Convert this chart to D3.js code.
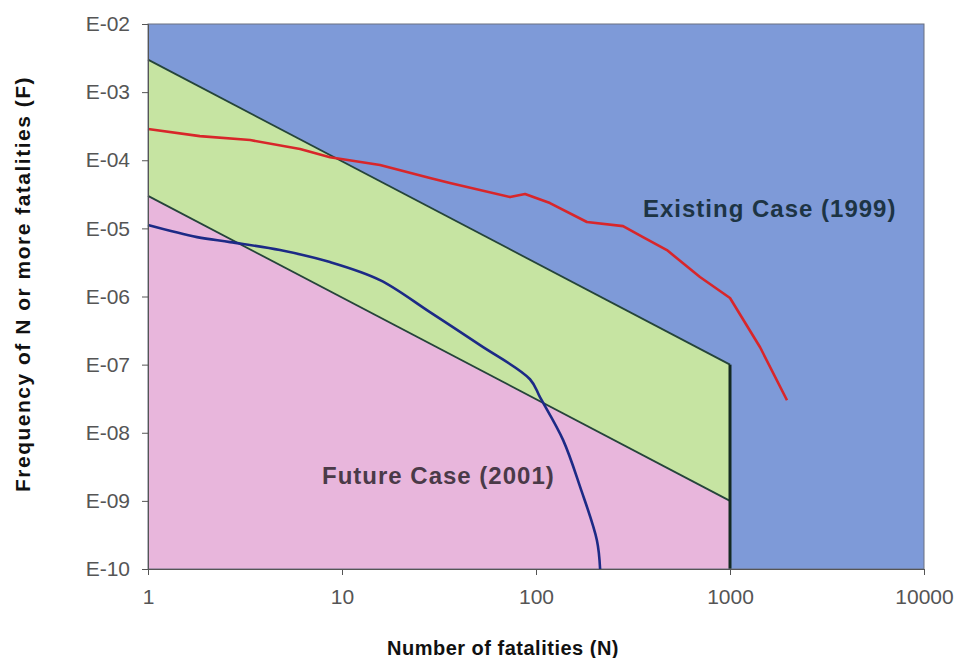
<!DOCTYPE html>
<html>
<head>
<meta charset="utf-8">
<script src="https://cdn.jsdelivr.net/npm/d3@7"></script>
<style>
  body { margin: 0; background: #fff; }
  text { font-family: "Liberation Sans", Arial, sans-serif; }
</style>
</head>
<body>
<div id="chart"></div>
<script>
// axis ticks
const xTicks = [1, 10, 100, 1000, 10000]
const yTicks = [1e-2, 1e-3, 1e-4, 1e-5, 1e-6, 1e-7, 1e-8, 1e-9, 1e-10]

// criterion lines (N, F)
const upperN = [1, 1000]
const upperF = [3e-3, 1e-7]
const lowerN = [1, 1000]
const lowerF = [3e-5, 1e-9]

// Existing Case (1999)
const existingN = [1, 1.85, 3.36, 6.08, 8.67, 15.7, 28.4, 36, 73.5, 87.8, 118, 183, 281, 356, 473, 700, 1000, 1429, 1967]
const existingF = [2.87e-4, 2.26e-4, 1.98e-4, 1.46e-4, 1.11e-4, 8.5e-5, 5.48e-5, 4.63e-5, 2.88e-5, 3.19e-5, 2.35e-5, 1.24e-5, 1.08e-5, 7.45e-6, 4.8e-6, 1.93e-6, 9.5e-7, 1.8e-7, 3.0e-8]

// Future Case (2001)
const futureN = [1, 1.79, 2.65, 4.79, 8.67, 15.7, 28.4, 51.5, 93.1, 105, 138, 169, 206, 214]
const futureF = [1.12e-5, 7.44e-6, 6.29e-6, 4.8e-6, 3.2e-6, 1.74e-6, 5.9e-7, 1.93e-7, 6.1e-8, 3.3e-8, 7.8e-9, 1.59e-9, 2.65e-10, 1e-10]

const W = 959, H = 658
const margin = {top: 24, right: 35, bottom: 89, left: 148}
const width = W - margin.left - margin.right
const height = H - margin.top - margin.bottom

const x = d3.scaleLog().domain([1, 10000]).range([0, width])
const y = d3.scaleLog().domain([1e-10, 1e-2]).range([height, 0])

const svg = d3.select("#chart")
    .append("svg")
        .attr("width", W)
        .attr("height", H)

const g = svg.append("g")
    .attr("transform", `translate(${margin.left}, ${margin.top})`)

// background (intolerable region)
g.append("rect")
    .attr("width", width)
    .attr("height", height)
    .attr("fill", "#7e9ad8")

const zip = (ns, fs) => ns.map((n, i) => [n, fs[i]])
const upper = zip(upperN, upperF)
const lower = zip(lowerN, lowerF)
const yMin = y.domain()[0]

const line = d3.line().x(d => x(d[0])).y(d => y(d[1]))

// ALARP band
g.append("path")
    .attr("d", line(upper.concat(lower.slice().reverse())) + "Z")
    .attr("fill", "#c6e4a2")

// broadly acceptable region
g.append("path")
    .attr("d", line(lower.concat([[lowerN[1], yMin], [lowerN[0], yMin]])) + "Z")
    .attr("fill", "#e8b6dc")

for (const crit of [upper, lower]) {
    g.append("path").datum(crit)
        .attr("d", line)
        .attr("fill", "none").attr("stroke", "#25443a").attr("stroke-width", 1.8)
}

g.append("line")
    .attr("x1", x(upperN[1])).attr("x2", x(upperN[1]))
    .attr("y1", y(upperF[1])).attr("y2", y(yMin))
    .attr("stroke", "#142a22").attr("stroke-width", 3)

// frame
g.append("rect")
    .attr("width", width).attr("height", height)
    .attr("fill", "none").attr("stroke", "#6a7080").attr("stroke-width", 1)

g.append("path").datum(zip(existingN, existingF))
    .attr("d", line)
    .attr("fill", "none").attr("stroke", "#d8262a").attr("stroke-width", 2.6)
    .attr("stroke-linejoin", "round")

g.append("path").datum(zip(futureN, futureF))
    .attr("d", d3.line().x(d => x(d[0])).y(d => y(d[1])).curve(d3.curveCatmullRom.alpha(0.5)))
    .attr("fill", "none").attr("stroke", "#1c2a86").attr("stroke-width", 2.6)

// axes
const xAxis = g.append("g")
    .attr("transform", `translate(0, ${height})`)
    .call(d3.axisBottom(x).tickValues(xTicks).tickFormat(d3.format("d")).tickSize(6).tickPadding(14))

const yAxis = g.append("g")
    .call(d3.axisLeft(y).tickValues(yTicks)
        .tickFormat(d => "E-" + String(-Math.round(Math.log10(d))).padStart(2, "0"))
        .tickSize(6).tickPadding(12))

for (const ax of [xAxis, yAxis]) {
    ax.select(".domain").attr("stroke", "#555")
    ax.selectAll(".tick line").attr("stroke", "#555")
    ax.selectAll(".tick text")
        .attr("fill", "#555")
        .attr("font-size", "21px")
        .style("font-family", "'Liberation Sans', Arial, sans-serif")
}

// case labels
g.append("text")
    .attr("x", 495)
    .attr("y", 193)
    .attr("font-size", "24px").attr("font-weight", "bold")
    .attr("letter-spacing", "1px")
    .attr("fill", "#1d3444")
    .text("Existing Case (1999)")

g.append("text")
    .attr("x", 174)
    .attr("y", 460)
    .attr("font-size", "24px").attr("font-weight", "bold")
    .attr("letter-spacing", "1px")
    .attr("fill", "#4a3a48")
    .text("Future Case (2001)")

// axis titles
svg.append("text")
    .attr("x", 503)
    .attr("y", 655)
    .attr("text-anchor", "middle")
    .attr("font-size", "20px").attr("font-weight", "bold")
    .attr("letter-spacing", "0.5px")
    .attr("fill", "#111")
    .text("Number of fatalities (N)")

svg.append("text")
    .attr("transform", `translate(30, 284) rotate(-90)`)
    .attr("text-anchor", "middle")
    .attr("font-size", "21px").attr("font-weight", "bold")
    .attr("letter-spacing", "1.5px")
    .attr("fill", "#111")
    .text("Frequency of N or more fatalities (F)")
</script>
</body>
</html>
